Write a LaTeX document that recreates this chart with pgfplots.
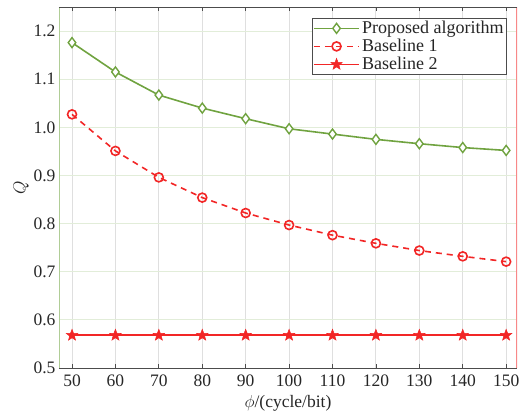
\documentclass[border=0pt]{standalone}
\usepackage{fontspec}
\setmainfont{Liberation Serif}
\usepackage{pgfplots}
\pgfplotsset{compat=1.18}
\definecolor{pgreen}{RGB}{112,163,64}
\definecolor{bred}{RGB}{242,38,38}
\pgfdeclareplotmark{fstar}{%
  \pgfpathmoveto{\pgfpointpolar{90}{\pgfplotmarksize}}%
  \pgfpathlineto{\pgfpointpolar{126}{0.42\pgfplotmarksize}}%
  \pgfpathlineto{\pgfpointpolar{162}{\pgfplotmarksize}}%
  \pgfpathlineto{\pgfpointpolar{198}{0.42\pgfplotmarksize}}%
  \pgfpathlineto{\pgfpointpolar{234}{\pgfplotmarksize}}%
  \pgfpathlineto{\pgfpointpolar{270}{0.42\pgfplotmarksize}}%
  \pgfpathlineto{\pgfpointpolar{306}{\pgfplotmarksize}}%
  \pgfpathlineto{\pgfpointpolar{342}{0.42\pgfplotmarksize}}%
  \pgfpathlineto{\pgfpointpolar{18}{\pgfplotmarksize}}%
  \pgfpathlineto{\pgfpointpolar{54}{0.42\pgfplotmarksize}}%
  \pgfpathclose\pgfusepathqfillstroke}
\begin{document}
\begin{tikzpicture}
\path[use as bounding box] (-59pt,-50pt) rectangle (460pt,368pt);
\begin{axis}[
  scale only axis, width=458pt, height=361pt,
  at={(0,0)}, anchor=south west,
  xmin=47, xmax=152.5, ymin=0.5, ymax=1.25,
  xtick={50,60,...,150},
  ytick={0.5,0.6,...,1.21},
  yticklabel style={/pgf/number format/.cd, fixed, fixed zerofill, precision=1},
  xticklabel style={yshift=-3pt},
  /pgf/number format/assume math mode=true,
  tick label style={font=\fontsize{17.5}{20}\selectfont, black!85},
  label style={font=\fontsize{17.5}{20}\selectfont, black!85},
  xlabel={$\phi$/(cycle/bit)},
  ylabel={$Q$},
  xlabel style={yshift=-2pt},
  ylabel style={yshift=-2pt},
  axis line style={draw=none},
  tick align=inside, major tick length=4pt,
  xtick style={black!70, line width=0.8pt}, ytick style={draw=none},
  grid=major,
  x grid style={gray!25, line width=0.9pt},
  y grid style={pgreen!20, line width=0.9pt},
  legend style={at={(1,1)}, anchor=north east, xshift=-10pt, yshift=-11pt,
    font=\fontsize{18}{19}\selectfont, text=black!85, draw=black!70, line width=0.8pt,
    inner sep=1pt, row sep=0pt, cells={anchor=west}},
  legend cell align=left,
  legend image code/.code={\draw[line width=1.6pt, mark repeat=2,mark phase=2] plot coordinates {(0cm,0cm) (0.8cm,0cm) (1.6cm,0cm)};},
]
\draw[pgreen!55, line width=0.9pt] (rel axis cs:0,0) -- (rel axis cs:0,1);
\draw[bred!55, line width=1.2pt] (rel axis cs:1,0) -- (rel axis cs:1,1);
\draw[black!70, line width=0.9pt] (rel axis cs:0,0) -- (rel axis cs:1,0);
\draw[black!70, line width=0.9pt] (rel axis cs:0,1) -- (rel axis cs:1,1);
\addplot[pgreen, line width=1.6pt, mark=diamond*, mark size=5pt, mark options={fill=white, line width=1.4pt}]
coordinates {(50,1.176) (60,1.115) (70,1.067) (80,1.040) (90,1.018) (100,0.997) (110,0.986) (120,0.975) (130,0.966) (140,0.958) (150,0.952)};
\addlegendentry{Proposed algorithm}
\addplot[bred, line width=1.6pt, dashed, dash pattern=on 6pt off 5pt, mark=o, mark size=4.5pt, mark options={solid, line width=1.6pt}]
coordinates {(50,1.027) (60,0.951) (70,0.896) (80,0.854) (90,0.822) (100,0.797) (110,0.776) (120,0.759) (130,0.744) (140,0.732) (150,0.721)};
\addlegendentry{Baseline 1}
\addplot[bred, line width=1.6pt, mark=fstar, mark size=6pt, mark options={fill=bred, line width=0.5pt}]
coordinates {(50,0.568) (60,0.568) (70,0.568) (80,0.568) (90,0.568) (100,0.568) (110,0.568) (120,0.568) (130,0.568) (140,0.568) (150,0.568)};
\addlegendentry{Baseline 2}
\end{axis}
\end{tikzpicture}
\end{document}
